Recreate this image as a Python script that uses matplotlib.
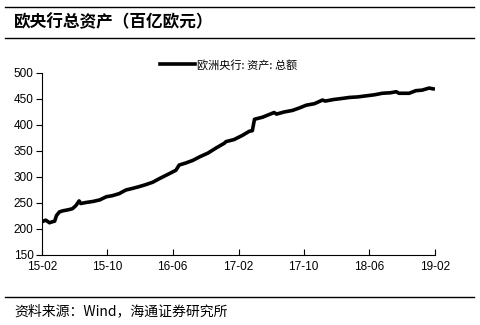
import pandas as pd
import matplotlib
matplotlib.use("Agg")
import matplotlib.pyplot as plt
from matplotlib.lines import Line2D

plt.rcParams['font.family'] = ['Liberation Sans', 'Noto Sans CJK SC', 'DejaVu Sans']

# 欧洲央行总资产（百亿欧元）
dates = [
    "2015-02-01", "2015-02-15", "2015-03-01", "2015-03-12", "2015-03-20",
    "2015-03-27", "2015-04-07", "2015-04-20", "2015-05-10", "2015-05-25",
    "2015-06-07", "2015-06-19", "2015-06-25", "2015-07-15", "2015-08-10",
    "2015-09-04", "2015-09-28", "2015-10-20", "2015-11-15", "2015-12-10",
    "2016-01-03", "2016-01-25", "2016-02-20", "2016-03-19", "2016-04-13",
    "2016-05-10", "2016-06-13", "2016-06-25", "2016-07-20", "2016-08-15",
    "2016-09-10", "2016-10-10", "2016-11-10", "2016-12-10", "2016-12-16",
    "2017-01-15", "2017-02-15", "2017-03-13", "2017-03-24", "2017-04-01",
    "2017-05-01", "2017-06-13", "2017-06-22", "2017-07-20", "2017-08-20",
    "2017-09-16", "2017-10-10", "2017-11-10", "2017-12-10", "2017-12-20",
    "2018-01-20", "2018-02-20", "2018-03-20", "2018-04-20", "2018-05-20",
    "2018-06-20", "2018-07-20", "2018-08-20", "2018-09-10", "2018-09-20",
    "2018-10-10", "2018-10-28", "2018-11-22", "2018-12-15", "2019-01-10",
    "2019-01-20", "2019-02-01",
]
total_assets = [
    214, 217, 212, 214, 215,
    226, 233, 235, 237, 239,
    245, 254, 249, 251, 253,
    256, 262, 264, 268, 275,
    278, 281, 285, 290, 297,
    304, 313, 323, 327, 332,
    339, 346, 356, 365, 368,
    372, 380, 388, 389, 411,
    415, 424, 421, 425, 428,
    433, 438, 441, 448, 446,
    449, 451, 453, 454, 456,
    458, 461, 462, 464, 461,
    461, 461, 466, 467, 471,
    470, 469,
]

y_ticks = [150, 200, 250, 300, 350, 400, 450, 500]
x_tick_labels = ["15-02", "15-10", "16-06", "17-02", "17-10", "18-06", "19-02"]
x_tick_dates = pd.to_datetime(["2015-02-01", "2015-10-01", "2016-06-01", "2017-02-01",
                               "2017-10-01", "2018-06-01", "2019-02-01"])

fig = plt.figure(figsize=(4.81, 3.25), dpi=100)
ax = fig.add_axes([0.0873, 0.2154, 0.817, 0.56])

ax.plot(pd.to_datetime(dates), total_assets, color='black', lw=2.6,
        solid_joinstyle='round', solid_capstyle='butt')

ax.set_xlim(x_tick_dates[0], x_tick_dates[-1])
ax.set_ylim(150, 500)
ax.set_yticks(y_ticks)
ax.set_xticks(x_tick_dates)
ax.set_xticklabels(x_tick_labels)

for s in ['top', 'right']:
    ax.spines[s].set_visible(False)
for s in ['left', 'bottom']:
    ax.spines[s].set_linewidth(0.8)
ax.tick_params(axis='y', direction='out', length=4, width=0.8, labelsize=8.5, pad=2)
ax.tick_params(axis='x', direction='in', length=4, width=0.8, labelsize=8.5, pad=4)

# legend above the plot
handle = Line2D([], [], color='black', lw=2.6)
leg = ax.legend([handle], ['欧洲央行: 资产: 总额'], loc='center left',
                bbox_to_anchor=(0.30, 1.045), frameon=False, handlelength=3.2,
                handletextpad=0.1, borderpad=0, borderaxespad=0,
                prop={'family': ['Noto Sans CJK SC'], 'size': 8})

# title, rules and source note
for y in (7, 38, 297):
    fig.add_artist(Line2D([0.01, 0.985], [1 - y / 325, 1 - y / 325], color='black', lw=1))
fig.text(0.03, 1 - 22 / 325, '欧央行总资产（百亿欧元）', ha='left', va='center',
         fontsize=12, fontweight='bold', family=['Noto Sans CJK SC'])
fig.text(0.03, 1 - 311 / 325, '资料来源：Wind，海通证券研究所', ha='left', va='center',
         fontsize=10, family=['Noto Sans CJK SC', 'Liberation Sans'])

fig.savefig('out.png', dpi=100)
